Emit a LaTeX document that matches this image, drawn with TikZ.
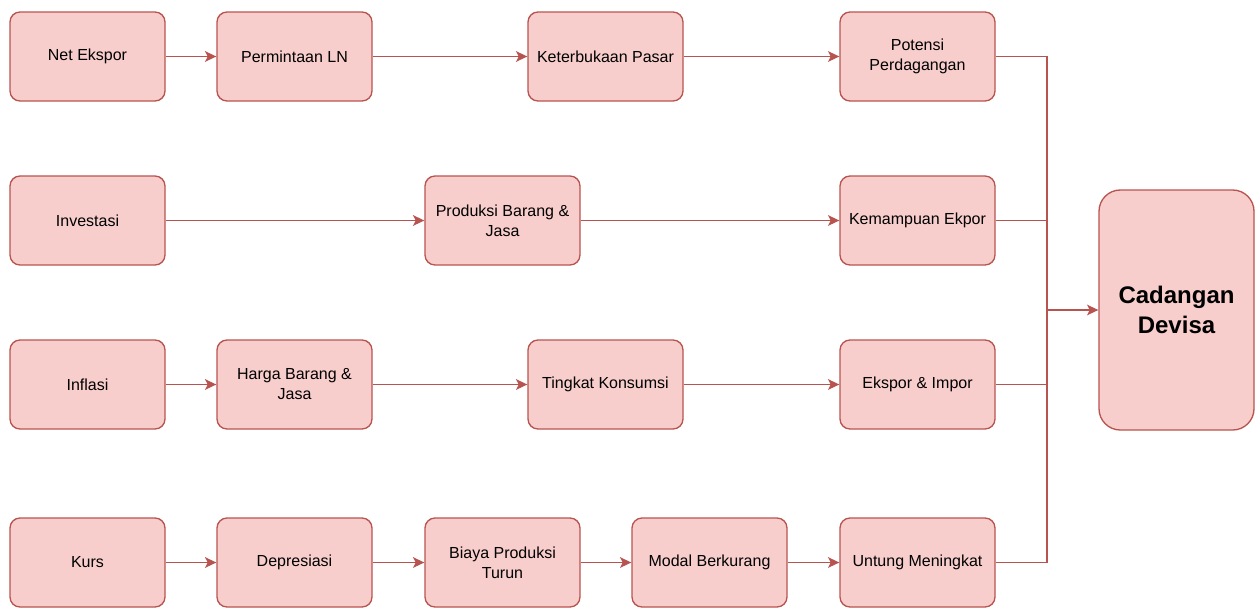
\documentclass[tikz,border=0pt]{standalone}
\usepackage{fontspec}
\setmainfont{Liberation Sans}
\usepackage{tikz}
\usetikzlibrary{arrows.meta,positioning}
\definecolor{BoxFill}{HTML}{F8CECC}
\definecolor{BoxLine}{HTML}{B85450}
\definecolor{Ink}{HTML}{000000}

\tikzset{
  box/.style={draw=BoxLine,fill=BoxFill,line width=1pt,rounded corners=7.5pt,
    minimum width=116.25pt,minimum height=66.75pt,align=center,text=Ink,
    font=\fontsize{12}{15}\selectfont,inner sep=0pt},
  bigbox/.style={box,rounded corners=16pt,minimum height=180pt,
    font=\fontsize{18}{22.5}\selectfont\bfseries},
  link/.style={draw=BoxLine,line width=1pt,-{Stealth[length=8.5pt,width=8pt,inset=2pt]}},
  joint/.style={draw=BoxLine,line width=1pt}
}

\begin{document}
\begin{tikzpicture}[x=0.75pt,y=-0.75pt]
  \useasboundingbox (0,0) rectangle (1255,607);
  % row 1
  \node[box] (netekspor)  at (87.5,56.5)  {Net Ekspor};
  \node[box] (permintaan) at (294.5,56.5) {Permintaan LN};
  \node[box] (keterbukaan) at (605.5,56.5) {Keterbukaan Pasar};
  \node[box] (potensi)    at (917.5,56.5) {Potensi\\Perdagangan};
  % row 2
  \node[box] (investasi)  at (87.5,220.5)  {Investasi};
  \node[box] (produksi)   at (502.5,220.5) {Produksi Barang \&\\Jasa};
  \node[box] (kemampuan)  at (917.5,220.5) {Kemampuan Ekpor};
  % row 3
  \node[box] (inflasi)    at (87.5,384.5)  {Inflasi};
  \node[box] (harga)      at (294.5,384.5) {Harga Barang \&\\Jasa};
  \node[box] (konsumsi)   at (605.5,384.5) {Tingkat Konsumsi};
  \node[box] (eksim)      at (917.5,384.5) {Ekspor \& Impor};
  % row 4
  \node[box] (kurs)       at (87.5,562.5)  {Kurs};
  \node[box] (depresiasi) at (294.5,562.5) {Depresiasi};
  \node[box] (biaya)      at (502.5,562.5) {Biaya Produksi\\Turun};
  \node[box] (modal)      at (709.5,562.5) {Modal Berkurang};
  \node[box] (untung)     at (917.5,562.5) {Untung Meningkat};
  % target
  \node[bigbox] (devisa)  at (1176.5,310) {Cadangan\\Devisa};
  \coordinate (merge) at (1047,310);

  \foreach \a/\b in {netekspor/permintaan,permintaan/keterbukaan,keterbukaan/potensi,
    investasi/produksi,produksi/kemampuan,
    inflasi/harga,harga/konsumsi,konsumsi/eksim,
    kurs/depresiasi,depresiasi/biaya,biaya/modal,modal/untung}
    \draw[link] (\a) -- (\b);

  \foreach \a in {potensi,kemampuan,eksim,untung}
    \draw[joint] (\a.east) -| (merge);
  \draw[link] (merge) -- (devisa);
\end{tikzpicture}
\end{document}
